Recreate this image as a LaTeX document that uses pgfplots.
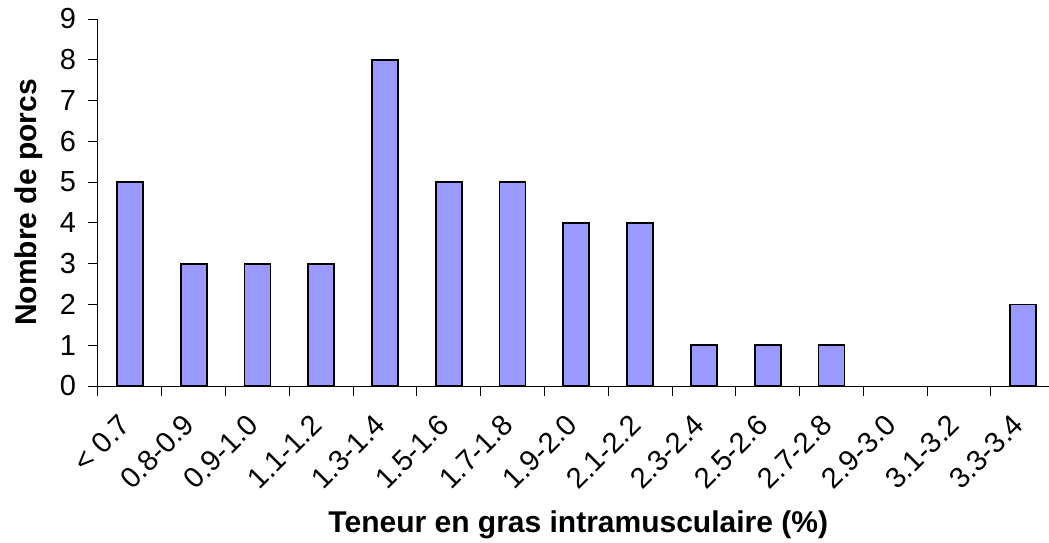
\documentclass[border=0pt]{standalone}
\usepackage{fontspec}
\setmainfont{Liberation Sans}
\usepackage{pgfplots}
\pgfplotsset{compat=1.18}
\definecolor{barblue}{HTML}{9999FF}
\begin{document}
\begin{tikzpicture}
\begin{axis}[
  scale only axis, width=475.5pt, height=183.5pt,
  xmin=-0.5, xmax=14.41, ymin=0, ymax=9,
  axis x line*=bottom, axis y line*=left,
  axis line style={black, line width=0.5pt},
  ytick={0,...,9},
  xtick={0,...,14},
  xticklabels={{< 0.7\hspace{4pt}},0.8-0.9,0.9-1.0,1.1-1.2,1.3-1.4,1.5-1.6,1.7-1.8,1.9-2.0,2.1-2.2,2.3-2.4,2.5-2.6,2.7-2.8,2.9-3.0,3.1-3.2,3.3-3.4},
  minor xtick={-0.5,0.5,...,13.5},
  tick align=outside,
  major tick length=5pt, minor tick length=5pt,
  major x tick style={draw=none},
  tick style={black, line width=0.5pt},
  /pgf/number format/assume math mode=true,
  ticklabel style={font=\fontsize{14.5}{17}\selectfont},
  yticklabel style={xshift=-2.5pt},
  xticklabel style={xshift=-2.25pt, yshift=-11.75pt, rotate=45, anchor=east, inner sep=0pt},
  label style={font=\bfseries\fontsize{15}{18}\selectfont},
  ylabel={Nombre de porcs},
  ylabel style={at={(axis description cs:-0.0726,0.5)}, anchor=center, rotate=0},
  xlabel={Teneur en gras intramusculaire (\%)},
  xlabel style={at={(axis description cs:0.505,0)}, anchor=base, yshift=-73pt},
  clip=false,
]
\addplot[ybar, bar width=13pt, fill=barblue, draw=black, line width=0.9pt,
  y filter/.expression={y==0 ? nan : y}] coordinates {
  (0,5) (1,3) (2,3) (3,3) (4,8) (5,5) (6,5) (7,4) (8,4) (9,1) (10,1) (11,1) (12,0) (13,0) (14,2)
};
\coordinate (SW) at (rel axis cs:0,0);
\coordinate (NE) at (rel axis cs:1,1);
\end{axis}
\pgfresetboundingbox
\path ([xshift=-49pt,yshift=-78pt]SW) rectangle ([yshift=9.5pt]NE);
\end{tikzpicture}
\end{document}
